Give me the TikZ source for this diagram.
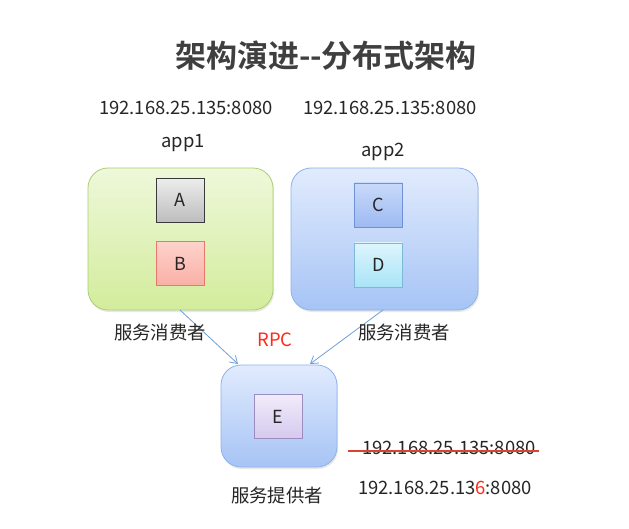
\documentclass[tikz,border=0pt]{standalone}
\usepackage{fontspec}
\setmainfont{Noto Sans CJK SC}
\newfontfamily\titlefont{Noto Sans CJK SC Bold}
\usetikzlibrary{arrows.meta,shadows,calc}
\definecolor{txt}{HTML}{262626}
\definecolor{titlegray}{HTML}{3F3F3F}
\definecolor{arrowblue}{HTML}{6F9FD8}
\definecolor{rpcred}{HTML}{FF2A1A}
\definecolor{strikered}{HTML}{D9442E}
% container fills
\definecolor{greenline}{HTML}{A9CF72}
\definecolor{greentop}{HTML}{EEF8DA}
\definecolor{greenbot}{HTML}{D3EC9C}
\definecolor{blueline}{HTML}{8EB2EA}
\definecolor{bluetop}{HTML}{E1EBFD}
\definecolor{bluebot}{HTML}{A6C4F5}
% component fills
\definecolor{aline}{HTML}{3A3A3A}
\definecolor{atop}{HTML}{EDEDED}
\definecolor{abot}{HTML}{BDBDBD}
\definecolor{bline}{HTML}{E8786C}
\definecolor{btop}{HTML}{FDD3CC}
\definecolor{bbot}{HTML}{F9AFA5}
\definecolor{cline}{HTML}{6F91D6}
\definecolor{ctop}{HTML}{C9DAFA}
\definecolor{cbot}{HTML}{9DBAF2}
\definecolor{dline}{HTML}{7FB7D6}
\definecolor{dtop}{HTML}{DDF5FD}
\definecolor{dbot}{HTML}{A9E4F7}
\definecolor{eline}{HTML}{9C8CC0}
\definecolor{etop}{HTML}{F1ECFA}
\definecolor{ebot}{HTML}{D5C9EE}
\tikzset{
  container/.style={rounded corners=20pt, line width=0.8pt, drop shadow={shadow xshift=1pt,shadow yshift=-2pt,opacity=0.18}},
  greenbox/.style={container, draw=greenline, top color=greentop, bottom color=greenbot},
  bluebox/.style={container, draw=blueline, top color=bluetop, bottom color=bluebot},
  comp/.style={minimum width=48pt, minimum height=44pt, line width=0.9pt, text=txt, font=\fontsize{18}{18}\selectfont},
  label/.style={text=txt, font=\fontsize{18.4}{18.4}\selectfont, inner sep=0pt},
  flow/.style={draw=arrowblue, line width=0.8pt, -{Straight Barb[length=7pt,width=9pt]}},
}
\begin{document}
\begin{tikzpicture}[x=1pt,y=-1pt]
  \useasboundingbox[fill=white] (0,0) rectangle (629,529);

  % heading
  \node[text=titlegray, font=\titlefont\fontsize{31}{31}\selectfont, inner sep=0pt] (title) at (326,56) {架构演进--分布式架构};

  % addresses of the two consumer apps
  \node[label] (ip1) at (186,108) {192.168.25.135:8080};
  \node[label] (ip2) at (390,108) {192.168.25.135:8080};
  \node[label] (app1) at (183,143) {app1};
  \node[label] (app2) at (383,152) {app2};

  % consumer app1
  \path[greenbox] (88,168) rectangle (273,310);
  \coordinate (g1) at (180,310);
  \node[comp, draw=aline, top color=atop, bottom color=abot] (A) at (180,200) {A};
  \node[comp, draw=bline, top color=btop, bottom color=bbot] (B) at (180,263.5) {B};

  % consumer app2
  \path[bluebox] (291,168) rectangle (478,310);
  \coordinate (g2) at (383,310);
  \node[comp, draw=cline, top color=ctop, bottom color=cbot] (C) at (378.5,205) {C};
  \node[comp, draw=dline, top color=dtop, bottom color=dbot] (D) at (378.5,265) {D};

  % provider
  \path[bluebox] (221,365) rectangle (337,467);
  \node[comp, draw=eline, top color=etop, bottom color=ebot] (E) at (278,416.5) {E};
  \coordinate (p1) at (238,364);
  \coordinate (p2) at (310,364);

  % rpc calls
  \draw[flow] (g1) -- (p1);
  \draw[flow] (g2) -- (p2);

  \node[label] (cons1) at (160,333) {服务消费者};
  \node[label] (cons2) at (404,333) {服务消费者};
  \node[label, text=rpcred] (rpc) at (275,340) {RPC};
  \node[label] (prov) at (277,496) {服务提供者};

  % provider address, old one struck through
  \node[label] (ipold) at (449,448) {192.168.25.135:8080};
  \draw[draw=strikered, line width=1.6pt] ($(ipold.west)+(-14,3)$) coordinate (s1) -- ($(ipold.east)+(3,3)$) coordinate (s2);
  \node[label] (ipnew) at (445,488) {192.168.25.13\textcolor{rpcred}{6}:8080};
\end{tikzpicture}
\end{document}
